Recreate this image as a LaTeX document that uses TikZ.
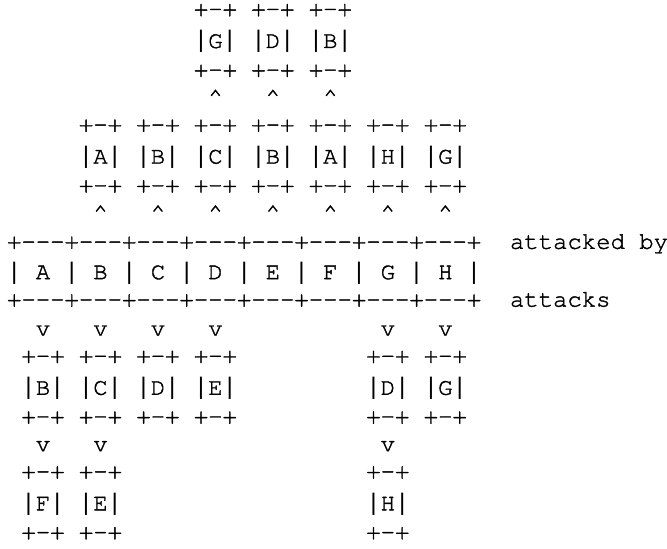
\documentclass[tikz,border=0pt]{standalone}
\usepackage{fontspec}
\setmonofont{texgyrecursor-regular.otf}[FakeBold=1.5]
\newfontfamily\barfont{Liberation Mono}
\usetikzlibrary{positioning}

% every text row is exactly one grid row tall, centred on its baseline
\newcommand\rowstrut{\rule[-10.8375pt]{0pt}{21.675pt}}
% full-height vertical bar, same advance width as the other characters
\newcommand\vb{{\barfont|}}

\tikzset{
  cell/.style={font=\fontsize{17.96pt}{21.675pt}\selectfont\ttfamily,
               inner sep=0pt, outer sep=0pt, anchor=west,
               execute at begin node=\rowstrut},
}

% a three-row character box: +-+ / |X| / +-+
\newcommand\asciibox[4]{%
  \node[cell] (#1) at (#2,#3) {\vb#4\vb};
  \node[cell, above=0pt of #1] (#1-top) {+-+};
  \node[cell, below=0pt of #1] (#1-bot) {+-+};
}

\begin{document}
\begin{tikzpicture}
\useasboundingbox (0,0) rectangle (500.25pt,-411.75pt);
\begin{scope}[shift={(5.33pt,-13.2pt)}, x=10.776pt, y=-21.675pt]

  % attackers of the attackers
  \asciibox{t1}{13}{1}{G}
  \asciibox{t2}{17}{1}{D}
  \asciibox{t3}{21}{1}{B}
  \foreach \c [count=\i] in {14,18,22}
    \node[cell] (ut\i) at (\c,3) {\textasciicircum};

  % direct attackers
  \asciibox{s1}{5}{5}{A}
  \asciibox{s2}{9}{5}{B}
  \asciibox{s3}{13}{5}{C}
  \asciibox{s4}{17}{5}{B}
  \asciibox{s5}{21}{5}{A}
  \asciibox{s6}{25}{5}{H}
  \asciibox{s7}{29}{5}{G}
  \foreach \c [count=\i] in {6,10,14,18,22,26,30}
    \node[cell] (us\i) at (\c,7) {\textasciicircum};

  % the argument table
  \node[cell] (tabtop) at (0,8)  {+---+---+---+---+---+---+---+---+};
  \node[cell] (tab)    at (0,9)  {\vb{} A \vb{} B \vb{} C \vb{} D \vb{} E \vb{} F \vb{} G \vb{} H \vb};
  \node[cell] (tabbot) at (0,10) {+---+---+---+---+---+---+---+---+};
  \node[cell] (lblby)  at (35,8)  {attacked by};
  \node[cell] (lblatk) at (35,10) {attacks};

  % attacked arguments
  \foreach \c [count=\i] in {2,6,10,14,26,30}
    \node[cell] (da\i) at (\c,11) {v};
  \asciibox{b1}{1}{13}{B}
  \asciibox{b2}{5}{13}{C}
  \asciibox{b3}{9}{13}{D}
  \asciibox{b4}{13}{13}{E}
  \asciibox{b5}{25}{13}{D}
  \asciibox{b6}{29}{13}{G}

  \foreach \c [count=\i] in {2,6,26}
    \node[cell] (db\i) at (\c,15) {v};
  \asciibox{c1}{1}{17}{F}
  \asciibox{c2}{5}{17}{E}
  \asciibox{c3}{25}{17}{H}

\end{scope}
\end{tikzpicture}
\end{document}
